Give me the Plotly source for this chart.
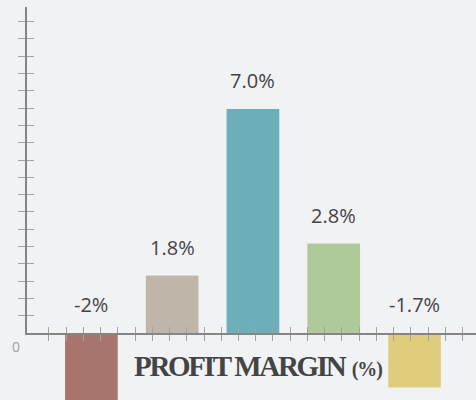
import numpy as np
import plotly.graph_objs as go

# data
categories = ["A", "B", "C", "D", "E"]
margins = [-2.1, 1.8, 7.0, 2.8, -1.7]
labels = ["-2%", "1.8%", "7.0%", "2.8%", "-1.7%"]
colors = ["#a8756c", "#bfb6a9", "#6cafb9", "#b0c99b", "#dfcd7c"]

BG = "#f1f2f4"
x_pos = np.arange(len(categories))

# axis geometry (decorative crossing ticks)
x_range = [-0.797, 4.761]
y_range = [-2.094, 10.406]
x_ticks = -0.525 + np.arange(25) * 0.2133
y_ticks = np.arange(1, 19) * 0.5406

fig = go.Figure()
fig.add_trace(go.Bar(
    x=x_pos, y=margins,
    marker=dict(color=colors, line=dict(width=0)),
    width=0.652,
    hoverinfo="skip",
))

# empty traces so the decorative axes get drawn
for xa, ya in [("x2", "y2"), ("x3", "y2"), ("x2", "y3")]:
    fig.add_trace(go.Scatter(x=[], y=[], xaxis=xa, yaxis=ya,
                             hoverinfo="skip", showlegend=False))

for xp, v, lab in zip(x_pos, margins, labels):
    fig.add_annotation(
        x=xp, y=max(v, 0), text=lab, showarrow=False,
        yanchor="middle", yshift=28,
        font=dict(family="Open Sans", size=20, color="#444444"),
    )

fig.add_annotation(
    xref="paper", yref="paper", x=(132 - 27) / 449, y=1 - 366 / 400,
    xanchor="left", yanchor="middle", showarrow=False,
    text="<b><span style='letter-spacing:-2.3px'>PROFIT MARGIN</span> "
         "<span style='font-size:20px;letter-spacing:-1px'>(%)</span></b>",
    font=dict(family="Liberation Serif", size=29, color="#444444"),
)
fig.add_annotation(
    xref="paper", yref="paper", x=(16 - 27) / 449, y=1 - 346 / 400,
    xanchor="center", yanchor="middle", showarrow=False, text="0",
    font=dict(family="Open Sans", size=14, color="#a0a0a0"),
)

line_style = dict(showline=True, linecolor="#858585", linewidth=1.6,
                  showgrid=False, zeroline=False, showticklabels=False,
                  tickcolor="#a3a3a3", tickwidth=1.3)
zero_frac = 67 / 400
top_frac = 1 - 7 / 400

fig.update_layout(
    width=476, height=400,
    margin=dict(l=27, r=0, t=0, b=0),
    paper_bgcolor=BG, plot_bgcolor="rgba(0,0,0,0)",
    showlegend=False,
    xaxis=dict(range=x_range, visible=False, domain=[0, 1]),
    yaxis=dict(range=y_range, visible=False, domain=[0, 1]),
    xaxis2=dict(range=x_range, anchor="y2", domain=[0, 1], ticks="outside",
                ticklen=6, tickmode="array", tickvals=x_ticks, **line_style),
    xaxis3=dict(range=x_range, anchor="y2", domain=[0, 1], ticks="inside",
                ticklen=6, tickmode="array", tickvals=x_ticks, **line_style),
    yaxis2=dict(range=[0, y_range[1] - 0.219], anchor="x2", domain=[zero_frac, top_frac],
                ticks="outside", ticklen=7, tickmode="array", tickvals=y_ticks, **line_style),
    yaxis3=dict(range=[0, y_range[1] - 0.219], anchor="x2", domain=[zero_frac, top_frac],
                ticks="inside", ticklen=7, tickmode="array", tickvals=y_ticks, **line_style),
)

fig.write_html("out.html", config={"displayModeBar": False},
               post_script="document.body.style.margin='0px';")
